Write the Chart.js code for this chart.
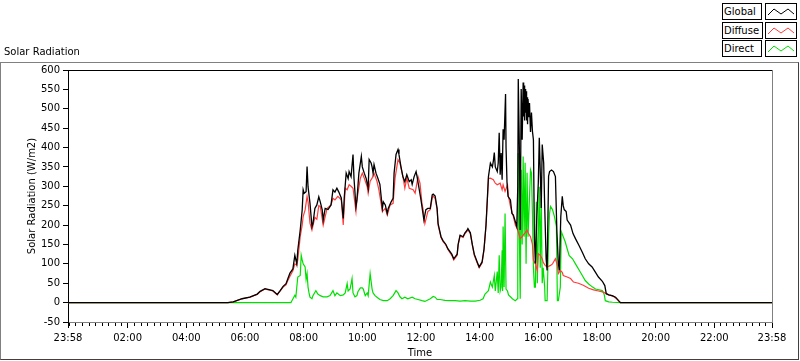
<!DOCTYPE html>
<html>
<head>
<meta charset="utf-8">
<title>Solar Radiation</title>
<script src="https://cdn.jsdelivr.net/npm/chart.js"></script>
<style>
    body { margin: 0; padding: 0; background: #fff; font-family: "DejaVu Sans", sans-serif; }
    #wrap { position: relative; width: 800px; height: 361px; overflow: hidden; }
    #frame {
        position: absolute; left: 0; top: 62px; width: 797px; height: 296px;
        border-top: 1px solid #808080; border-left: 1px solid #808080;
        border-right: 1px solid #404040; border-bottom: 1px solid #404040;
    }
    #graph { position: absolute; left: 0; top: 0; }
    .caption { position: absolute; left: 4px; top: 46px; font-size: 10px; color: #000; }
    .leg-name, .leg-glyph {
        position: absolute; height: 15px; border: 1px solid #000; background: #fff;
        font-size: 10px; line-height: 15px; color: #000;
    }
    .leg-name { left: 722px; width: 38px; padding-left: 1px; box-sizing: content-box; }
    .leg-glyph { left: 765px; width: 30px; }
</style>
</head>
<body>
<div id="wrap">
    <div id="frame"></div>
    <canvas id="graph" width="800" height="361"></canvas>
    <div class="caption">Solar Radiation</div>

    <div class="leg-name" style="top:3px; width:37px">Global</div>
    <div class="leg-glyph" style="top:3px"><svg width="30" height="15"><polyline points="2,11 8,5 15,10 22,5 28,10" fill="none" stroke="#000" stroke-width="1"/></svg></div>
    <div class="leg-name" style="top:22px">Diffuse</div>
    <div class="leg-glyph" style="top:22px"><svg width="30" height="15"><polyline points="2,11 8,5 15,10 22,5 28,10" fill="none" stroke="#ff3c3c" stroke-width="1"/></svg></div>
    <div class="leg-name" style="top:40px; width:37px">Direct</div>
    <div class="leg-glyph" style="top:40px"><svg width="30" height="15"><polyline points="2,11 8,5 15,10 22,5 28,10" fill="none" stroke="#00e000" stroke-width="1"/></svg></div>
</div>

<script>
    // time axis runs from 23:58 to 23:58 -> minutes of day, -2 .. 1438
    var xMin = -2, xMax = 1438;
    var majorTicks = [-2, 120, 240, 360, 480, 600, 720, 840, 960, 1080, 1200, 1320, 1438];
    var minorStep = 120 / 9;

    // Global (W/m2)
    var globalTime = [-2, 325, 336, 354, 370, 385, 391, 401, 411, 417, 426, 432, 438, 444, 448, 452, 458, 462, 466, 468,
        473, 477, 479, 481, 485, 487, 489, 493, 497, 499, 503, 507, 511, 514, 518, 520, 524, 530, 536, 540,
        544, 548, 552, 557, 561, 563, 567, 571, 573, 577, 581, 583, 587, 589, 593, 598, 600, 604, 608, 612,
        614, 618, 620, 622, 624, 628, 632, 636, 641, 643, 647, 651, 653, 659, 663, 665, 669, 673, 675, 679,
        683, 687, 691, 696, 700, 702, 706, 710, 712, 716, 720, 726, 730, 734, 739, 743, 745, 749, 753, 755,
        761, 765, 771, 775, 783, 787, 794, 796, 800, 806, 810, 814, 816, 821, 825, 829, 835, 839, 845, 849,
        853, 856, 858, 862, 866, 868, 870, 872, 876, 878, 880, 882, 884, 886, 888, 890, 893, 894, 896, 898,
        903, 906, 909, 913, 916, 918, 919, 921, 923, 925, 927, 929, 930, 931, 932, 933, 934, 935, 936, 937,
        938, 939, 941, 942, 944, 946, 948, 950, 952, 954, 957, 960, 962, 964, 966, 968, 971, 973, 976, 978,
        981, 983, 987, 991, 995, 998, 1001, 1003, 1006, 1009, 1011, 1013, 1017, 1019, 1026, 1031, 1036, 1043, 1050, 1056,
        1063, 1070, 1077, 1083, 1091, 1096, 1099, 1104, 1111, 1118, 1124, 1128, 1438];
    var globalValue = [0, 0, 2, 10, 14, 22, 29, 36, 33, 31, 21, 31, 42, 49, 63, 76, 87, 122, 100, 135,
        187, 239, 291, 282, 286, 351, 299, 256, 196, 204, 243, 252, 273, 260, 239, 213, 243, 240, 252, 291,
        285, 295, 285, 270, 217, 270, 334, 320, 338, 325, 382, 320, 248, 265, 334, 377, 350, 334, 320, 295,
        369, 360, 350, 334, 356, 334, 320, 305, 243, 260, 252, 230, 243, 260, 269, 334, 382, 395, 382, 351,
        325, 312, 330, 312, 317, 305, 325, 338, 325, 295, 265, 213, 240, 243, 243, 278, 280, 275, 243, 204,
        170, 160, 150, 139, 125, 113, 125, 150, 174, 170, 180, 186, 191, 180, 150, 125, 105, 92, 105, 139,
        200, 274, 325, 360, 350, 365, 387, 350, 338, 360, 438, 330, 386, 317, 447, 420, 538, 400, 309, 274,
        265, 230, 226, 209, 196, 300, 577, 420, 187, 551, 420, 568, 480, 560, 470, 551, 490, 545, 470, 530,
        460, 525, 480, 515, 440, 490, 442, 420, 170, 101, 222, 309, 425, 338, 244, 408, 360, 252, 113, 83,
        326, 338, 342, 338, 325, 183, 101, 83, 222, 274, 250, 240, 235, 213, 200, 178, 165, 148, 130, 113,
        100, 92, 78, 66, 55, 44, 23, 20, 18, 14, 5, 0, 0];

    // Diffuse (W/m2)
    var diffuseTime = [-2, 325, 336, 354, 370, 385, 391, 401, 411, 417, 426, 432, 438, 444, 448, 452, 458, 462, 466, 468,
        473, 477, 479, 483, 487, 489, 493, 497, 503, 507, 511, 514, 520, 528, 536, 540, 544, 550, 557, 561,
        565, 569, 573, 577, 581, 587, 589, 596, 600, 604, 610, 612, 616, 620, 624, 630, 634, 641, 647, 651,
        657, 663, 667, 673, 677, 683, 687, 691, 696, 704, 708, 714, 718, 722, 724, 728, 734, 739, 743, 745,
        749, 753, 755, 761, 765, 771, 775, 783, 787, 794, 796, 800, 806, 810, 814, 816, 821, 825, 829, 835,
        839, 845, 849, 853, 856, 858, 862, 868, 872, 876, 882, 886, 888, 892, 897, 899, 903, 907, 909, 913,
        917, 919, 923, 927, 929, 933, 937, 939, 944, 948, 950, 954, 958, 960, 964, 968, 970, 974, 978, 985,
        989, 995, 999, 1001, 1005, 1009, 1011, 1019, 1026, 1032, 1042, 1052, 1063, 1073, 1083, 1093, 1104, 1114, 1122, 1128,
        1438];
    var diffuseValue = [0, 0, 2, 10, 14, 21, 28, 35, 32, 30, 20, 30, 40, 46, 58, 68, 82, 100, 97, 110,
        170, 200, 222, 239, 274, 260, 205, 187, 220, 215, 250, 248, 200, 243, 252, 269, 265, 274, 265, 200,
        295, 291, 304, 300, 295, 235, 265, 321, 334, 321, 299, 282, 313, 321, 334, 313, 290, 235, 243, 226,
        252, 256, 321, 369, 360, 325, 295, 321, 295, 291, 282, 325, 308, 256, 243, 204, 235, 240, 270, 275,
        268, 240, 200, 168, 158, 148, 137, 122, 110, 122, 148, 172, 168, 178, 184, 188, 178, 148, 122, 102,
        90, 102, 136, 198, 270, 320, 321, 317, 308, 304, 308, 291, 304, 287, 304, 274, 248, 230, 222, 200,
        190, 182, 165, 170, 174, 180, 187, 180, 170, 150, 109, 100, 83, 126, 122, 113, 104, 96, 92, 96,
        100, 113, 96, 75, 83, 78, 70, 66, 62, 53, 50, 45, 37, 33, 30, 27, 20, 16, 8, 0,
        0];

    // Direct (W/m2)
    var directTime = [-2, 454, 456, 462, 464, 468, 473, 475, 477, 479, 483, 485, 487, 489, 491, 493, 497, 499, 505, 509,
        514, 520, 528, 534, 540, 544, 548, 555, 561, 565, 569, 571, 575, 579, 581, 585, 589, 591, 596, 600,
        602, 606, 610, 612, 616, 620, 622, 626, 630, 636, 643, 651, 657, 663, 669, 673, 677, 681, 687, 693,
        702, 708, 714, 722, 728, 739, 745, 749, 753, 759, 769, 779, 790, 800, 810, 821, 831, 841, 847, 851,
        858, 862, 866, 870, 872, 876, 878, 880, 882, 884, 886, 887, 888, 890, 892, 894, 897, 899, 903, 907,
        909, 913, 917, 918, 919, 921, 923, 925, 927, 929, 931, 933, 935, 937, 939, 944, 946, 948, 950, 952,
        954, 956, 958, 962, 964, 966, 968, 970, 973, 974, 978, 981, 983, 985, 989, 993, 997, 999, 1001, 1005,
        1007, 1011, 1015, 1019, 1023, 1030, 1036, 1044, 1050, 1056, 1063, 1071, 1077, 1091, 1095, 1097, 1104, 1112, 1128, 1438];
    var directValue = [0, 0, 5, 19, 14, 66, 70, 122, 110, 100, 92, 60, 75, 40, 25, 14, 10, 18, 31, 22,
        18, 15, 15, 18, 31, 18, 25, 18, 20, 25, 49, 30, 35, 62, 25, 15, 18, 28, 38, 38,
        35, 18, 25, 18, 75, 35, 25, 18, 14, 8, 5, 5, 10, 18, 31, 25, 15, 10, 14, 10,
        14, 10, 8, 5, 3, 10, 16, 14, 8, 8, 6, 5, 5, 4, 5, 4, 4, 6, 10, 22,
        31, 53, 40, 70, 30, 80, 25, 122, 30, 40, 135, 30, 196, 40, 230, 35, 30, 20, 15, 10,
        8, 5, 10, 100, 386, 200, 10, 343, 150, 377, 170, 361, 100, 335, 170, 343, 335, 230, 90, 40,
        40, 260, 50, 299, 90, 270, 50, 90, 40, 5, 5, 170, 230, 248, 240, 222, 196, 5, 5, 40,
        183, 170, 157, 139, 122, 113, 100, 83, 70, 57, 48, 40, 35, 31, 20, 5, 2, 1, 0, 0];

    function pairs(times, values) {
        return times.map(function (t, i) { return { x: t, y: values[i] }; });
    }

    function clock(v) {
        var m = ((Math.round(v) % 1440) + 1440) % 1440;
        var h = Math.floor(m / 60), mm = m % 60;
        return (h < 10 ? '0' : '') + h + ':' + (mm < 10 ? '0' : '') + mm;
    }

    // top / right edge of the plot area and the small minor ticks under it
    var plotFrame = {
        id: 'plotFrame',
        afterDraw: function (chart) {
            var ctx = chart.ctx, a = chart.chartArea, x = chart.scales.x;
            ctx.save();
            ctx.lineWidth = 1;
            ctx.strokeStyle = '#000';
            ctx.beginPath();
            ctx.moveTo(a.left, a.top + 0.5);
            ctx.lineTo(a.right, a.top + 0.5);
            ctx.stroke();
            ctx.strokeStyle = '#808080';
            ctx.beginPath();
            ctx.moveTo(a.right + 0.5, a.top);
            ctx.lineTo(a.right + 0.5, a.bottom + 1);
            ctx.stroke();
            ctx.strokeStyle = '#000';
            for (var k = 1; k < majorTicks.length; k++) {
                var from = majorTicks[k - 1], to = majorTicks[k];
                for (var v = to - minorStep; v > from + 1; v -= minorStep) {
                    var px = Math.round(x.getPixelForValue(v)) + 0.5;
                    ctx.beginPath();
                    ctx.moveTo(px, a.bottom + 1);
                    ctx.lineTo(px, a.bottom + 4);
                    ctx.stroke();
                }
            }
            ctx.restore();
        }
    };

    var labelFont = { family: 'DejaVu Sans', size: 10 };

    new Chart(document.getElementById('graph'), {
        type: 'line',
        data: {
            datasets: [
                { label: 'Global', data: pairs(globalTime, globalValue), borderColor: '#000000', borderWidth: 1.3 },
                { label: 'Diffuse', data: pairs(diffuseTime, diffuseValue), borderColor: '#ff3c3c', borderWidth: 1.2 },
                { label: 'Direct', data: pairs(directTime, directValue), borderColor: '#00e000', borderWidth: 1.2 }
            ]
        },
        options: {
            responsive: false,
            animation: false,
            devicePixelRatio: 1,
            layout: { padding: { left: 0, top: 70, right: 28, bottom: 0 } },
            elements: { point: { radius: 0 }, line: { tension: 0 } },
            plugins: { legend: { display: false }, tooltip: { enabled: false } },
            scales: {
                x: {
                    type: 'linear',
                    min: xMin,
                    max: xMax,
                    afterFit: function (s) { s.height = 39; },
                    afterBuildTicks: function (s) {
                        s.ticks = majorTicks.map(function (v) { return { value: v }; });
                    },
                    ticks: {
                        autoSkip: false, maxRotation: 0, padding: 4,
                        color: '#000', font: labelFont,
                        callback: function (v) { return clock(v); }
                    },
                    grid: { drawOnChartArea: false, tickLength: 6, tickColor: '#000' },
                    border: { color: '#808080' },
                    title: { display: true, text: 'Time', color: '#000', font: labelFont, padding: { top: 0, bottom: 2 } }
                },
                y: {
                    min: -50,
                    max: 600,
                    afterFit: function (s) { s.width = 68; },
                    ticks: { stepSize: 50, padding: 3, color: '#000', font: labelFont },
                    grid: { drawOnChartArea: false, tickLength: 5, tickColor: '#000' },
                    border: { color: '#000' },
                    title: { display: true, text: 'Solar Radiation (W/m2)', color: '#000', font: labelFont, padding: { top: 26, bottom: 0 } }
                }
            }
        },
        plugins: [plotFrame]
    });
</script>
</body>
</html>
